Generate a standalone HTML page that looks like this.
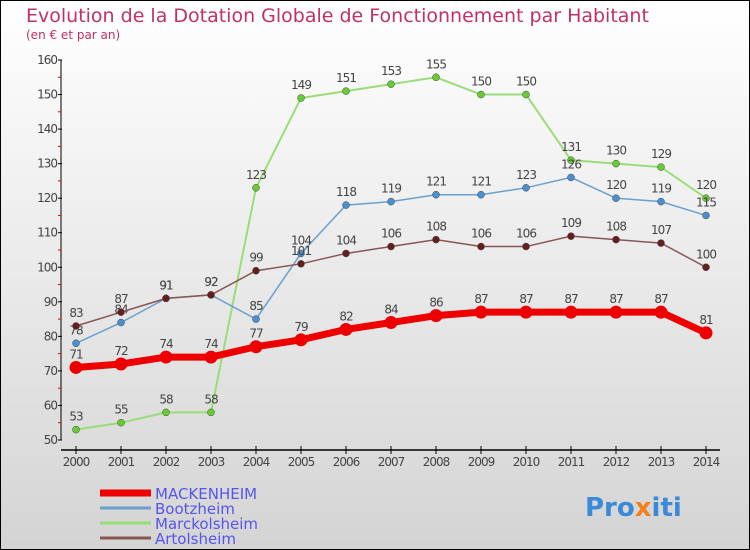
<!DOCTYPE html>
<html><head><meta charset="utf-8"><style>
body{margin:0}
#c{width:750px;height:550px;position:relative;box-sizing:border-box;border:1px solid #000;background:linear-gradient(#fff,#d4d4d4);font-family:"DejaVu Sans","Liberation Sans",sans-serif;overflow:hidden}
</style></head><body>
<div id="c">
<svg id="s" width="750" height="550" style="position:absolute;left:-1px;top:-1px">
<text x="26" y="22" font-size="19" fill="#c0306a">Evolution de la Dotation Globale de Fonctionnement par Habitant</text>
<text x="26" y="39" font-size="12" fill="#c0306a">(en € et par an)</text>
<g id="g"></g>
<text x="585" y="516" font-size="26" font-weight="bold" fill="#3a8ad8">Pro<tspan fill="#f08020">x</tspan>iti</text>
</svg>
</div>
<script>
const years=[2000,2001,2002,2003,2004,2005,2006,2007,2008,2009,2010,2011,2012,2013,2014];
const yTicks=[50,60,70,80,90,100,110,120,130,140,150,160];
const mackenheim=[71,72,74,74,77,79,82,84,86,87,87,87,87,87,81];
const bootzheim=[78,84,91,92,85,104,118,119,121,121,123,126,120,119,115];
const marckolsheim=[53,55,58,58,123,149,151,153,155,150,150,131,130,129,120];
const artolsheim=[83,87,91,92,99,101,104,106,108,106,106,109,108,107,100];
const seriesNames=["MACKENHEIM","Bootzheim","Marckolsheim","Artolsheim"];
const NS="http://www.w3.org/2000/svg",g=document.getElementById('g');
const X=i=>76+i*45, Y=v=>440-(v-50)*380/110;
function el(t,a,p){const e=document.createElementNS(NS,t);for(const k in a)e.setAttribute(k,a[k]);(p||g).appendChild(e);return e;}
let e;
e=el('line',{x1:61,y1:Y(160),x2:61,y2:Y(50),stroke:'#000'});


e=el('line',{x1:61,y1:450,x2:720,y2:450,stroke:'#000','stroke-width':1.5});


yTicks.forEach(v=>{
 el('line',{x1:58,y1:Y(v),x2:62,y2:Y(v),stroke:'#000'});
 if(v<160){el('line',{x1:58,y1:Y(v+5),x2:61,y2:Y(v+5),stroke:'#e00'});}
 e=el('text',{x:57,y:Y(v)+4,'font-size':12,'text-anchor':'end',fill:'#444','letter-spacing':'-1'});
 e.textContent=v;
 
 
});
years.forEach((y,i)=>{
 el('line',{x1:X(i),y1:446,x2:X(i),y2:454,stroke:'#000'});
 e=el('text',{x:X(i),y:466,'font-size':12,'text-anchor':'middle',fill:'#444','letter-spacing':'-1'});
 e.textContent=y;
 
 
});
const defs=[[marckolsheim,'#99dd77','#66cc33',2,3.5],[bootzheim,'#6aa0cc','#4a90d0',1.5,3.5],[artolsheim,'#885555','#661d1d',1.5,3.5],[mackenheim,'#ee0000','#ee0000',7,6.5]];
const names=['marckolsheim','bootzheim','artolsheim','mackenheim'];
defs.forEach(([d,lc,pc,w,r],k)=>{
 e=el('polyline',{points:d.map((v,i)=>X(i)+','+Y(v)).join(' '),fill:'none',stroke:lc,'stroke-width':w});
 
 
 d.forEach((v,i)=>{
  e=el('circle',{cx:X(i),cy:Y(v),r:r,fill:pc,stroke:k==3?'none':'#444','stroke-width':0.5});
  
  
  e=el('text',{x:X(i),y:Y(v)-9,'font-size':12,'text-anchor':'middle',fill:'#444','letter-spacing':'-1'});
  e.textContent=v;
  
  
 });
});
const lc=['#ee0000','#6aa0cc','#99dd77','#885555'],lw=[7,3,3,3];
seriesNames.forEach((n,i)=>{
 const y=493+i*15;
 e=el('line',{x1:100,y1:y,x2:151,y2:y,stroke:lc[i],'stroke-width':lw[i]});
 
 
 e=el('text',{x:155,y:y+6,'font-size':15,fill:'#5555ee'});
 e.textContent=n;
 
 
});
</script>
</body></html>
